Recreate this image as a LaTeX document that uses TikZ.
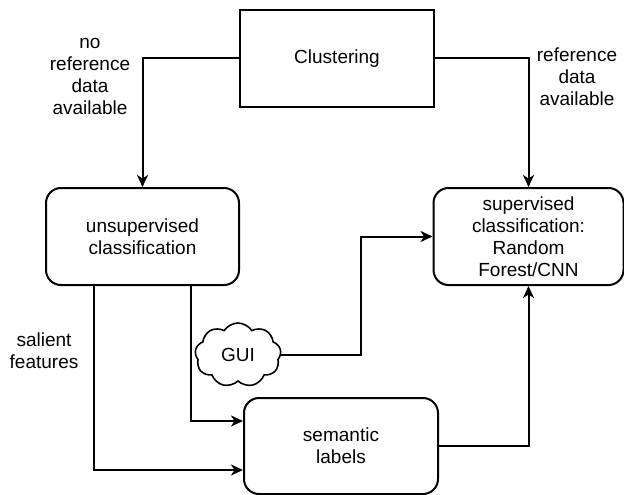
\documentclass[tikz,border=0pt]{standalone}
\usepackage{fontspec}
\setmainfont{Liberation Sans}
\usetikzlibrary{arrows.meta,shapes.symbols}
\tikzset{
  base/.style={draw=black, line width=2pt, inner sep=0pt, align=center,
    font=\fontsize{19}{22}\selectfont},
  plainbox/.style={base, rectangle},
  roundbox/.style={base, rectangle, rounded corners=15pt},
  cloudbox/.style={base, line width=1.6pt, cloud, cloud puffs=9, cloud puff arc=115, aspect=1.35},
  lbl/.style={inner sep=0pt, align=center, font=\fontsize{19}{22}\selectfont},
  conn/.style={line width=2pt, draw=black},
  arr/.style={conn, -{Stealth[length=12pt,width=11pt,inset=3.5pt]}}
}
\begin{document}
\begin{tikzpicture}[x=1pt, y=-1pt]
\useasboundingbox (0,0) rectangle (624,495);
\node[plainbox, minimum width=194pt, minimum height=97pt] (clus) at (337,58.5) {Clustering};
\node[roundbox, minimum width=193pt, minimum height=97pt] (unsup) at (142.5,236.5) {unsupervised\\classification};
\node[roundbox, minimum width=190pt, minimum height=97pt] (sup) at (528.5,236.5) {supervised\\classification:\\Random\\Forest/CNN};
\node[roundbox, minimum width=194pt, minimum height=96pt] (sem) at (341,446) {semantic\\labels};
\node[cloudbox, minimum width=86pt, minimum height=64pt] (gui) at (238,355) {GUI};
\node[lbl] (lno) at (90,76) {no\\reference\\data\\available};
\node[lbl] (lyes) at (577,76.5) {reference\\data\\available};
\node[lbl] (lsal) at (44,351) {salient\\features};
\coordinate (gbend) at (361,349);
\draw[arr] (clus.west) -| (unsup.north);
\draw[arr] (clus.east) -| (sup.north);
\draw[arr] ([xshift=-48.5pt]unsup.south) |- ([yshift=-24pt]sem.west);
\draw[arr] ([xshift=48.5pt]unsup.south) |- ([yshift=25pt]sem.west);
\draw[arr] (gui.east) -| (gbend |- sup.west) -- (sup.west);
\draw[arr] (sem.east) -| (sup.south);
\end{tikzpicture}
\end{document}
